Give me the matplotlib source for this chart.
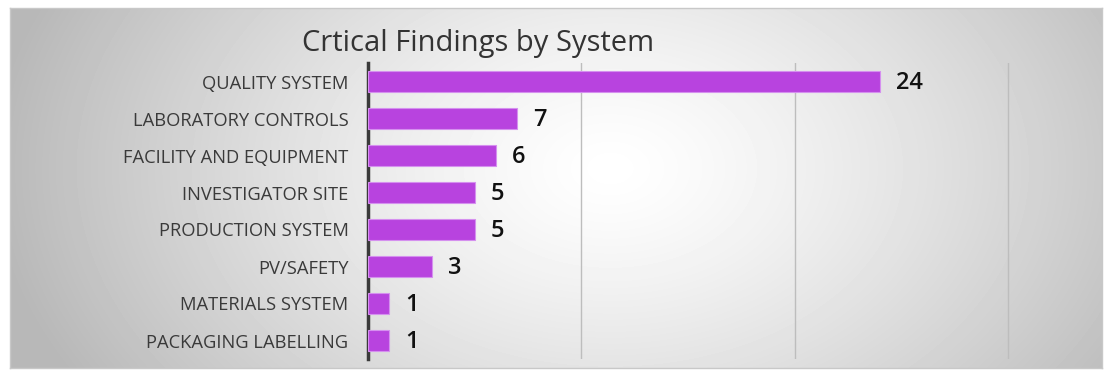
import numpy as np
import matplotlib.pyplot as plt

# data
systems = ["QUALITY SYSTEM", "LABORATORY CONTROLS", "FACILITY AND EQUIPMENT",
           "INVESTIGATOR SITE", "PRODUCTION SYSTEM", "PV/SAFETY",
           "MATERIALS SYSTEM", "PACKAGING LABELLING"]
findings = [24, 7, 6, 5, 5, 3, 1, 1]

plt.rcParams['font.family'] = ['Open Sans', 'DejaVu Sans']

fig = plt.figure(figsize=(11.04, 3.70), dpi=100)

# background panel with radial gradient
bg = fig.add_axes([10/1104, 2/370, 1092/1104, 360/370])
h, w = 360, 1092
yy, xx = np.mgrid[0:h, 0:w]
d = np.sqrt(((xx - 600) / 620.0) ** 2 + ((yy - 160) / 420.0) ** 2)
shade = 1.0 - 0.28 * np.clip(d, 0, 1) ** 1.3
bg.imshow(shade, cmap='gray', vmin=0, vmax=1, aspect='auto', extent=[0, 1, 0, 1])
bg.set_xticks([])
bg.set_yticks([])
for s in bg.spines.values():
    s.set_color('#c8c8c8')
    s.set_linewidth(1)

ax = fig.add_axes([368/1104, 11/370, 643/1104, 296/370])
ax.patch.set_visible(False)
y = np.arange(len(systems))
ax.barh(y, findings, height=0.55, color='#b843df', edgecolor='#d590ef', linewidth=0.8, zorder=3)
for yi, v in zip(y, findings):
    ax.text(v + 0.75, yi + 0.05, str(v), va='center', ha='left', fontsize=17,
            color='#111111', fontweight='semibold')

ax.set_xlim(0, 30.15)
ax.set_ylim(len(systems) - 0.5, -0.5)
ax.set_xticks([10, 20, 30])
ax.set_xticklabels([])
ax.tick_params(axis='x', length=0)
ax.grid(axis='x', color='#bdbdbd', linewidth=1.0, zorder=0)
ax.set_yticks(y)
ax.set_yticklabels(systems, fontsize=13.2, color='#3a3a3a')
ax.tick_params(axis='y', length=0, pad=14)
for k in ['top', 'right', 'bottom']:
    ax.spines[k].set_visible(False)
ax.spines['left'].set_color('#3a3a3a')
ax.spines['left'].set_linewidth(2.5)

fig.text(478/1104, 1 - 44/370, "Crtical Findings by System", ha='center', va='center',
         fontsize=21, color='#333333')

fig.savefig('out.png', dpi=100)
